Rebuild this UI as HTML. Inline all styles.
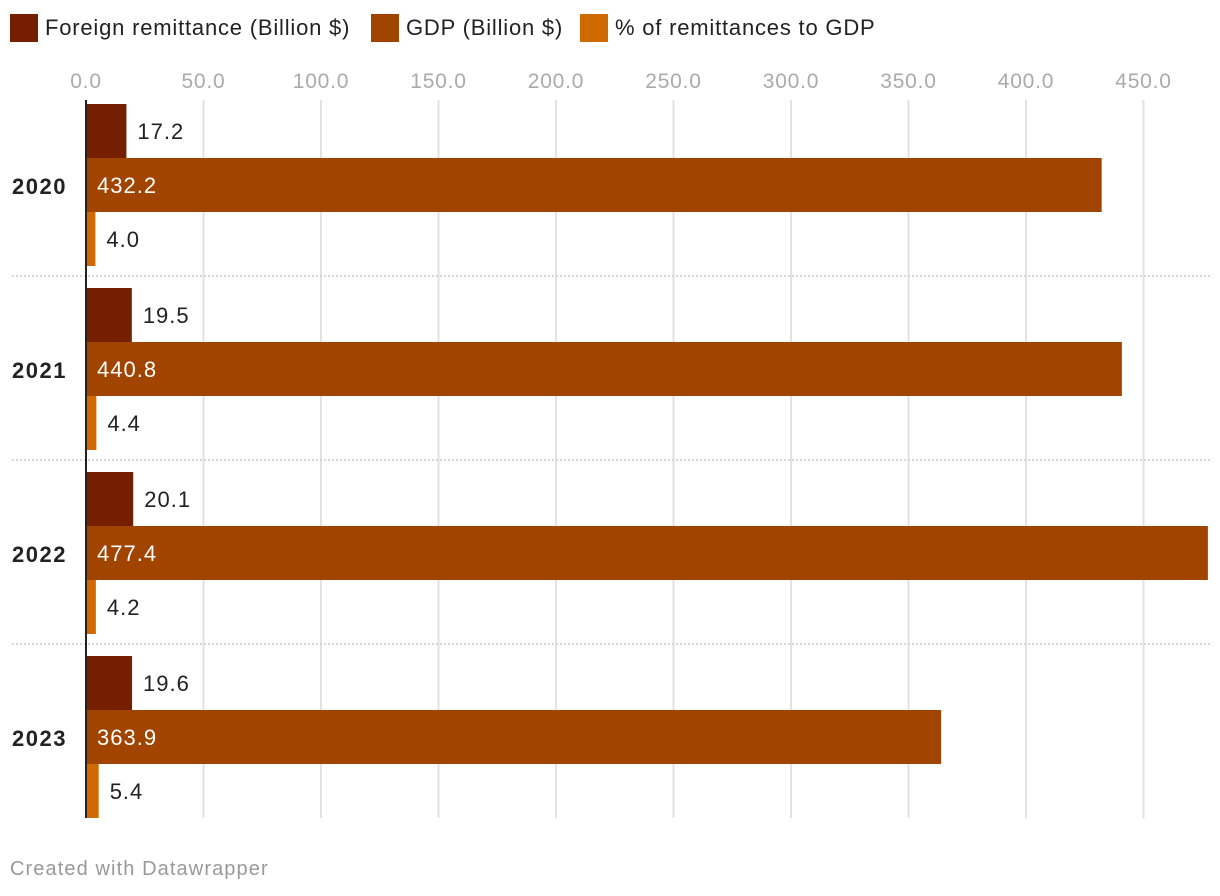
<!DOCTYPE html>
<html><head><meta charset="utf-8"><style>
body{margin:0;background:#fff;font-family:"Liberation Sans",sans-serif;}
#wrap{position:relative;width:1220px;height:896px;overflow:hidden;}
.leg{position:absolute;top:14px;height:28px;display:flex;align-items:center;font-size:22px;color:#222;letter-spacing:0.8px;}
.sw{width:28px;height:28px;margin-right:7px;}
.foot{position:absolute;left:10px;top:858px;font-size:20px;color:#999;letter-spacing:1.1px;}
</style></head><body>
<div id="wrap">
<div class="leg" style="left:10px"><div class="sw" style="background:#731f00"></div>Foreign remittance (Billion $)</div>
<div class="leg" style="left:371px"><div class="sw" style="background:#a14400"></div>GDP (Billion $)</div>
<div class="leg" style="left:580px"><div class="sw" style="background:#d06a00"></div>% of remittances to GDP</div>
<svg id="svg" width="1220" height="896" style="position:absolute;left:0;top:0"></svg>
<div class="foot">Created with Datawrapper</div>
</div>
<script>
const years=["2020","2021","2022","2023"];
const remit=[17.2,19.5,20.1,19.6];
const gdp=[432.2,440.8,477.4,363.9];
const pct=[4.0,4.4,4.2,5.4];
const ticks=[0,50,100,150,200,250,300,350,400,450];
const svg=document.getElementById('svg');
const NS='http://www.w3.org/2000/svg';
const x0=86,k=2.35;
const X=v=>x0+v*k;
function el(t,a){const e=document.createElementNS(NS,t);for(const n in a)e.setAttribute(n,a[n]);svg.appendChild(e);return e;}
ticks.forEach(t=>{
 if(t>0){const g=el('line',{x1:X(t),x2:X(t),y1:100,y2:818,stroke:'#e2e2e2','stroke-width':2});
 
 }
 const l=el('text',{x:X(t),y:88,'text-anchor':'middle','font-size':21,fill:'#aaa','letter-spacing':0.8});
 l.textContent=t.toFixed(1);
 
 
});
const series=[[remit,'#731f00','remit'],[gdp,'#a14400','gdp'],[pct,'#d06a00','pct']];
years.forEach((y,i)=>{
 const top=104+i*184;
 const yl=el('text',{x:12,y:top+90,'font-size':22,'font-weight':'bold',fill:'#222','letter-spacing':1.5});
 yl.textContent=y;
 
 
 if(i<3){const s=el('line',{x1:12,x2:1210,y1:top+172,y2:top+172,stroke:'#ccc','stroke-width':1.5,'stroke-dasharray':'2,2'});
 
 }
 series.forEach((s,j)=>{
  const v=s[0][i],by=top+j*54,w=X(v)-87;
  const r=el('rect',{x:87,y:by,width:Math.max(w,0),height:54,fill:s[1]});
  
  
  const inside=w>200;
  const t=el('text',{x:inside?97:X(v)+11,y:by+35,'font-size':22,fill:inside?'#fff':'#222','letter-spacing':1});
  t.textContent=v.toFixed(1);
  
  
 });
});
const ax=el('line',{x1:86,x2:86,y1:100,y2:818,stroke:'#222','stroke-width':2});


</script>
</body></html>
